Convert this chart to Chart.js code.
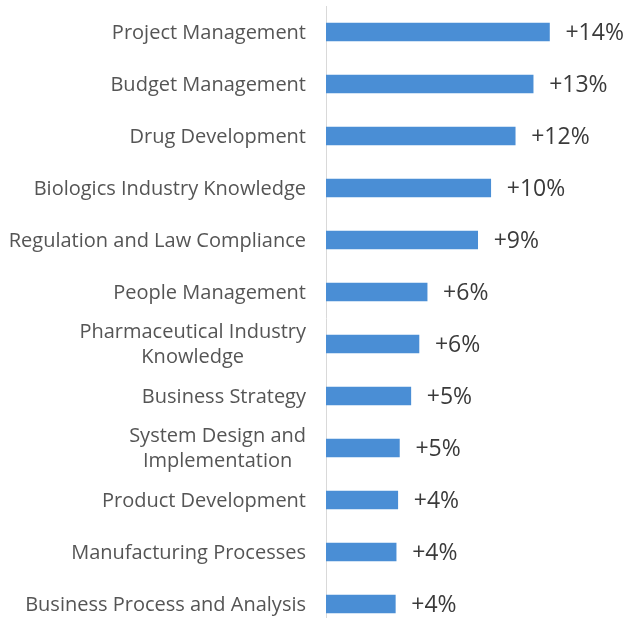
<!DOCTYPE html>
<html>
<head>
<meta charset="utf-8">
<script src="https://cdn.jsdelivr.net/npm/chart.js@4"></script>
<style>
  html, body { margin: 0; padding: 0; background: #fff; overflow: hidden; }
  #wrap { position: relative; width: 631px; height: 630px; }
</style>
</head>
<body>
<div id="wrap"><canvas id="skills"></canvas></div>
<script>
"use strict";

// Skill demand growth, horizontal bars with a "+n%" tag after each bar.
const SKILLS = [
  ["Project Management"],
  ["Budget Management"],
  ["Drug Development"],
  ["Biologics Industry Knowledge"],
  ["Regulation and Law Compliance"],
  ["People Management"],
  ["Pharmaceutical Industry", "Knowledge"],
  ["Business Strategy"],
  ["System Design and", "Implementation"],
  ["Product Development"],
  ["Manufacturing Processes"],
  ["Business Process and Analysis"],
];
const GROWTH = [13.7, 12.7, 11.6, 10.1, 9.3, 6.2, 5.7, 5.2, 4.5, 4.4, 4.3, 4.25];
const X_MAX = 18.7;

const BAR = "#4a8ed5";
const LABEL_FONT = "20px 'Open Sans', sans-serif";
const VALUE_FONT = "23px 'Open Sans', sans-serif";
const AXIS_W = 326;

function pct(v) {
  return "+" + Math.round(v) + "%";
}

// category names: right edge fixed, wrapped lines centred on each other
const skillLabels = {
  id: "skillLabels",
  afterDraw(chart) {
    const { ctx, scales: { y } } = chart;
    ctx.save();
    ctx.font = LABEL_FONT;
    ctx.fillStyle = "#555555";
    ctx.textAlign = "center";
    ctx.textBaseline = "middle";
    const right = AXIS_W - 20;
    const lh = 25;
    SKILLS.forEach((lines, i) => {
      const w = Math.max(...lines.map((l) => ctx.measureText(l).width));
      const cx = right - w / 2;
      const cy = y.getPixelForValue(i) + 1;
      lines.forEach((l, k) => {
        ctx.fillText(l, cx, cy + (k - (lines.length - 1) / 2) * lh);
      });
    });
    ctx.restore();
  },
};

// value tags after the bar ends
const valueTags = {
  id: "valueTags",
  afterDatasetsDraw(chart) {
    const { ctx } = chart;
    const meta = chart.getDatasetMeta(0);
    ctx.save();
    ctx.font = VALUE_FONT;
    ctx.fillStyle = "#3a3a3a";
    ctx.textAlign = "left";
    ctx.textBaseline = "middle";
    meta.data.forEach((bar, i) => {
      ctx.fillText(pct(GROWTH[i]), bar.x + 16, bar.y + 1);
    });
    ctx.restore();
  },
};

new Chart(document.getElementById("skills"), {
  type: "bar",
  data: {
    labels: SKILLS.map((s) => s.join(" ")),
    datasets: [{ data: GROWTH, backgroundColor: BAR, barThickness: 18 }],
  },
  options: {
    indexAxis: "y",
    responsive: true,
    maintainAspectRatio: false,
    animation: false,
    layout: { padding: { top: 6, bottom: 0, left: 0, right: 0 } },
    plugins: { legend: { display: false }, tooltip: { enabled: false } },
    scales: {
      x: { display: false, min: 0, max: X_MAX },
      y: {
        grid: { display: false },
        border: { display: true, color: "#d9d9d9", width: 1 },
        ticks: { display: false },
        afterFit(scale) { scale.width = AXIS_W; },
      },
    },
  },
  plugins: [skillLabels, valueTags],
});
</script>
</body>
</html>
